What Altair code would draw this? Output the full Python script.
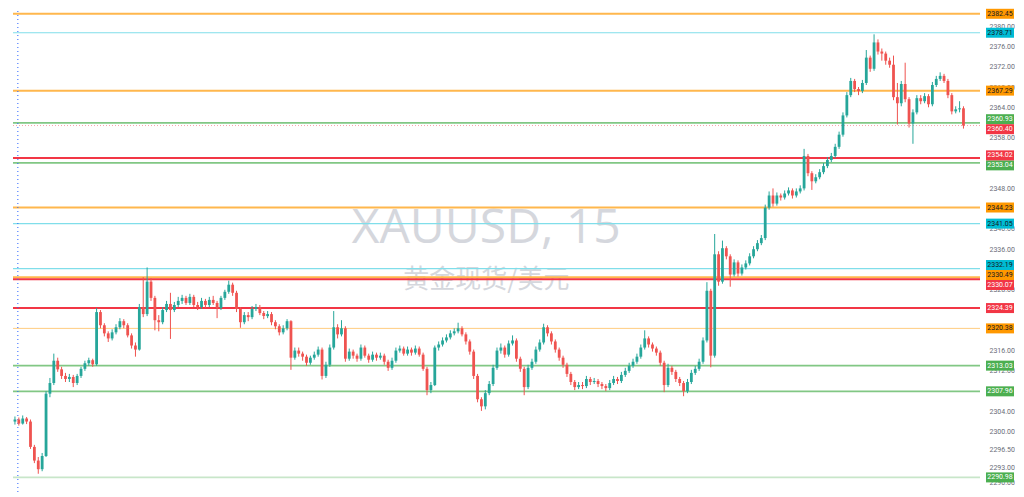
import altair as alt
import pandas as pd

# ---------------- data ----------------
FIRST_OPEN = 2302.0
closes = [
    2302.4, 2301.6, 2302.6, 2302.0, 2297.0, 2294.3, 2292.6, 2295.2, 2307.5, 2309.6,
    2314.0, 2312.3, 2311.0, 2310.4, 2310.8, 2309.6, 2311.0, 2312.4, 2313.5, 2314.1,
    2313.3, 2323.6, 2321.0, 2319.4, 2318.4, 2319.6, 2320.6, 2321.8, 2321.0, 2319.0,
    2317.0, 2316.2, 2324.6, 2323.2, 2329.6, 2326.4, 2322.0, 2321.6, 2324.0, 2325.2,
    2324.0, 2325.0, 2325.8, 2326.4, 2325.4, 2326.6, 2325.0, 2324.6, 2325.8, 2325.0,
    2326.0, 2325.4, 2324.4, 2326.4, 2327.6, 2329.0, 2327.4, 2324.2, 2321.6, 2323.0,
    2322.6, 2324.2, 2324.6, 2323.4, 2322.8, 2323.2, 2321.6, 2320.8, 2319.6, 2320.4,
    2321.8, 2314.6, 2316.0, 2315.4, 2314.8, 2313.6, 2314.6, 2315.2, 2316.2, 2311.0,
    2313.2, 2316.6, 2320.6, 2319.2, 2320.4, 2314.4, 2315.8, 2315.0, 2314.4, 2316.6,
    2315.0, 2314.2, 2315.2, 2314.6, 2315.0, 2313.8, 2312.6, 2314.0, 2316.0, 2316.4,
    2315.4, 2316.2, 2315.6, 2316.4, 2315.2, 2312.4, 2308.2, 2309.2, 2316.6, 2317.2,
    2318.0, 2318.6, 2319.4, 2319.8, 2320.4, 2319.2, 2317.8, 2315.8, 2311.0, 2306.4,
    2305.0, 2307.6, 2309.4, 2312.6, 2316.0, 2316.6, 2315.2, 2317.4, 2318.0, 2314.4,
    2312.4, 2308.8, 2312.6, 2313.8, 2316.2, 2317.6, 2320.6, 2319.4, 2317.8, 2316.2,
    2314.6, 2313.2, 2311.4, 2309.8, 2308.8, 2309.2, 2309.0, 2310.4, 2309.8, 2310.0,
    2309.4, 2309.0, 2308.6, 2309.6, 2310.4, 2310.0, 2311.2, 2312.0, 2313.0, 2313.8,
    2314.8, 2316.6, 2318.4, 2317.2, 2316.4, 2315.6, 2313.6, 2309.2, 2312.6, 2311.8,
    2310.4, 2309.6, 2308.0, 2309.8, 2311.6, 2312.4, 2313.8, 2318.0, 2327.8, 2315.0,
    2335.0, 2329.6, 2336.2, 2334.6, 2331.0, 2333.4, 2331.2, 2332.4, 2333.2, 2334.6,
    2336.0, 2337.2, 2338.2, 2344.2, 2346.6, 2345.0, 2346.6, 2346.2, 2347.0, 2347.6,
    2346.6, 2347.4, 2348.0, 2354.4, 2351.0, 2349.4, 2350.2, 2351.2, 2352.4, 2353.6,
    2354.4, 2356.2, 2358.6, 2362.4, 2366.4, 2369.2, 2367.6, 2367.2, 2368.8, 2373.8,
    2371.6, 2376.8, 2375.0, 2374.6, 2373.2, 2372.4, 2366.0, 2364.8, 2368.6, 2365.6,
    2360.8, 2363.0, 2365.8, 2365.2, 2366.2, 2364.6, 2368.4, 2369.6, 2370.2, 2369.2,
    2366.4, 2363.2, 2363.6, 2363.8, 2360.4,
]
highs = [
    2303.0, 2302.8, 2303.2, 2302.9, 2302.4, 2297.4, 2295.0, 2295.8, 2308.0, 2310.6,
    2315.4, 2314.6, 2312.8, 2311.6, 2311.4, 2311.2, 2311.4, 2312.8, 2314.0, 2314.6,
    2314.4, 2324.4, 2324.0, 2321.4, 2319.8, 2320.2, 2321.2, 2322.4, 2322.2, 2321.4,
    2319.4, 2317.6, 2325.2, 2330.5, 2332.4, 2330.3, 2326.8, 2323.0, 2324.6, 2325.8,
    2327.4, 2325.6, 2326.6, 2327.0, 2326.8, 2327.2, 2327.0, 2325.6, 2326.4, 2326.2,
    2326.6, 2326.8, 2325.8, 2326.8, 2328.0, 2329.8, 2329.4, 2327.8, 2324.6, 2323.6,
    2323.6, 2324.8, 2325.2, 2325.0, 2323.8, 2323.8, 2323.6, 2322.0, 2321.2, 2321.0,
    2322.2, 2322.0, 2316.6, 2316.6, 2315.8, 2315.2, 2315.0, 2315.8, 2316.8, 2316.6,
    2313.8, 2317.2, 2323.8, 2321.2, 2322.0, 2320.8, 2316.4, 2316.2, 2315.4, 2317.2,
    2317.0, 2315.4, 2315.8, 2315.6, 2315.6, 2315.4, 2314.2, 2314.6, 2316.6, 2317.0,
    2316.8, 2316.8, 2316.6, 2317.0, 2316.8, 2315.6, 2312.8, 2309.8, 2317.0, 2317.8,
    2318.6, 2319.2, 2320.0, 2320.4, 2321.5, 2320.8, 2319.6, 2318.2, 2316.2, 2311.4,
    2306.8, 2308.2, 2310.0, 2313.2, 2316.6, 2317.4, 2317.0, 2318.0, 2319.0, 2318.4,
    2314.8, 2312.8, 2313.2, 2314.4, 2316.8, 2318.2, 2321.3, 2321.0, 2319.8, 2318.2,
    2316.6, 2315.0, 2313.6, 2311.8, 2310.2, 2309.8, 2309.8, 2311.0, 2310.8, 2310.6,
    2310.4, 2309.8, 2309.4, 2310.2, 2311.0, 2310.8, 2311.8, 2312.6, 2313.6, 2314.4,
    2315.4, 2317.2, 2320.0, 2318.8, 2317.6, 2316.8, 2316.0, 2314.0, 2313.4, 2313.0,
    2312.2, 2310.8, 2310.0, 2310.4, 2312.2, 2313.0, 2314.4, 2318.6, 2329.5, 2328.2,
    2339.0, 2335.6, 2337.7, 2336.6, 2335.0, 2334.0, 2333.8, 2333.0, 2333.8, 2335.2,
    2336.6, 2337.8, 2338.8, 2344.8, 2347.4, 2348.0, 2347.2, 2347.0, 2347.6, 2348.2,
    2348.0, 2348.0, 2348.6, 2355.8, 2354.8, 2351.4, 2350.8, 2351.8, 2353.0, 2354.2,
    2355.0, 2356.8, 2359.2, 2363.0, 2367.0, 2369.8, 2369.6, 2368.0, 2369.4, 2375.3,
    2374.2, 2378.4, 2377.4, 2375.6, 2375.0, 2373.8, 2374.2, 2368.8, 2369.2, 2372.8,
    2366.0, 2363.6, 2366.4, 2366.4, 2366.8, 2366.6, 2369.0, 2370.2, 2370.9, 2370.6,
    2369.6, 2366.8, 2364.2, 2365.2, 2364.2,
]
lows = [
    2301.4, 2301.2, 2301.4, 2301.5, 2296.6, 2293.8, 2291.7, 2292.2, 2295.0, 2306.8,
    2309.2, 2311.8, 2310.4, 2309.8, 2309.8, 2308.8, 2309.2, 2310.6, 2312.0, 2313.0,
    2312.8, 2313.0, 2320.4, 2318.8, 2317.7, 2318.0, 2319.2, 2320.2, 2320.4, 2318.6,
    2316.4, 2314.8, 2316.0, 2322.6, 2322.8, 2325.8, 2320.0, 2319.8, 2321.2, 2323.6,
    2318.3, 2323.6, 2324.6, 2325.2, 2325.0, 2325.0, 2324.6, 2324.0, 2324.2, 2324.4,
    2324.6, 2325.0, 2322.4, 2324.0, 2326.0, 2327.2, 2326.8, 2323.6, 2320.5, 2321.2,
    2321.8, 2322.2, 2323.8, 2323.0, 2322.2, 2322.4, 2321.0, 2320.2, 2319.0, 2319.2,
    2320.0, 2312.2, 2314.2, 2314.8, 2314.0, 2313.0, 2313.2, 2314.2, 2314.8, 2310.3,
    2310.6, 2312.8, 2316.2, 2318.4, 2318.8, 2313.8, 2314.0, 2314.4, 2313.8, 2314.0,
    2314.6, 2313.6, 2313.8, 2314.0, 2314.2, 2313.2, 2312.0, 2312.2, 2313.6, 2315.6,
    2315.0, 2315.0, 2315.0, 2315.2, 2314.8, 2312.0, 2307.2, 2307.6, 2309.0, 2316.0,
    2316.8, 2317.6, 2318.2, 2319.0, 2319.4, 2318.8, 2317.2, 2315.2, 2310.4, 2305.8,
    2304.1, 2304.4, 2307.2, 2309.0, 2312.2, 2315.4, 2314.6, 2314.8, 2317.0, 2313.8,
    2311.8, 2307.2, 2308.4, 2312.2, 2313.4, 2315.8, 2317.2, 2318.8, 2317.2, 2315.6,
    2314.0, 2312.6, 2310.8, 2309.2, 2308.2, 2308.4, 2308.4, 2308.6, 2309.2, 2309.4,
    2308.8, 2308.4, 2308.0, 2308.2, 2309.2, 2309.4, 2309.6, 2310.8, 2311.6, 2312.6,
    2313.4, 2314.4, 2316.2, 2316.6, 2315.8, 2315.0, 2313.0, 2307.8, 2308.8, 2311.2,
    2309.8, 2309.0, 2307.0, 2307.6, 2309.4, 2311.2, 2312.0, 2313.4, 2317.6, 2312.7,
    2314.6, 2328.8, 2329.2, 2334.0, 2328.6, 2330.6, 2330.6, 2330.8, 2332.0, 2332.8,
    2334.2, 2335.6, 2336.8, 2337.8, 2343.8, 2344.4, 2344.6, 2345.6, 2345.8, 2346.6,
    2346.0, 2346.2, 2347.0, 2347.6, 2350.4, 2347.7, 2349.0, 2349.8, 2350.8, 2352.0,
    2353.2, 2354.0, 2355.8, 2358.2, 2362.0, 2366.0, 2367.0, 2366.4, 2366.8, 2368.4,
    2371.0, 2371.2, 2374.4, 2373.2, 2372.4, 2371.8, 2365.4, 2360.6, 2364.2, 2365.0,
    2360.0, 2356.8, 2362.6, 2364.6, 2364.8, 2364.0, 2364.2, 2368.0, 2369.2, 2368.8,
    2365.8, 2362.6, 2362.8, 2363.0, 2359.8,
]

level_prices = [2382.45, 2378.71, 2367.29, 2360.93, 2360.40, 2354.02, 2353.04,
                2344.23, 2341.05, 2332.19, 2330.49, 2330.07, 2324.39, 2320.38,
                2313.03, 2307.96, 2290.98]
level_kinds = ["orange", "cyan", "orange", "green", "last", "red", "green",
               "orange", "cyan", "cyan", "orange", "red", "red", "orange_thin",
               "green", "green", "green_light"]

axis_ticks = [2380, 2376, 2372, 2368, 2364, 2358, 2348, 2340, 2336, 2328,
              2316, 2312, 2304, 2300, 2296.5, 2293, 2290]

session_break = [0.75]
symbol_text = ["XAUUSD, 15"]
name_text = ["黄金现货/美元"]

# ---------------- layout / styles ----------------
W, H = 977, 481
X_DOMAIN = [-0.5, 248.25]
Y_DOMAIN = [2288.1, 2383.0]
UP, DOWN = "#26A69A", "#EF5350"
TAG_H = 10  # px

STYLE = {
    #  kind:        line color, width, dash, box fill, text color
    "orange":      ("#FFB74D", 2.0, [], "#FF9800", "#131722"),
    "orange_thin": ("#FFCC80", 1.0, [], "#FF9800", "#131722"),
    "cyan":        ("#80DEEA", 1.2, [], "#00BCD4", "#131722"),
    "green":       ("#81C784", 1.6, [], "#4CAF50", "#FFFFFF"),
    "green_light": ("#C8E6C9", 1.6, [], "#4CAF50", "#FFFFFF"),
    "red":         ("#F23645", 2.0, [], "#F23645", "#FFFFFF"),
    "last":        ("#F7A1A8", 1.0, [1, 2], "#F23645", "#FFFFFF"),
}


def spread_tags(prices, gap):
    """Layout helper: push overlapping price tags apart (centred on each cluster)."""
    order = sorted(range(len(prices)), key=lambda k: -prices[k])
    groups = [[k] for k in order]

    def pos(g):
        c = sum(prices[k] for k in g) / len(g)
        m = len(g)
        return [c + gap * ((m - 1) / 2 - j) for j in range(m)]

    changed = True
    while changed:
        changed = False
        for a in range(len(groups) - 1):
            if pos(groups[a])[-1] - pos(groups[a + 1])[0] < gap - 1e-9:
                groups[a] = groups[a] + groups[a + 1]
                del groups[a + 1]
                changed = True
                break
    out = [0.0] * len(prices)
    for g in groups:
        for k, p in zip(g, pos(g)):
            out[k] = p
    return out


# ---------------- tables ----------------
opens = [FIRST_OPEN] + closes[:-1]
n = min(len(closes), len(highs), len(lows))
candles = pd.DataFrame({
    "i": list(range(n)),
    "open": opens[:n],
    "close": closes[:n],
    "high": highs[:n],
    "low": lows[:n],
})
candles["dir"] = ["up" if c >= o else "down" for o, c in zip(candles["open"], candles["close"])]

px_per_unit = H / (Y_DOMAIN[1] - Y_DOMAIN[0])
levels = pd.DataFrame({"price": level_prices, "kind": level_kinds})
levels["label"] = [f"{p:.2f}" for p in level_prices]
levels["tag"] = spread_tags(level_prices, TAG_H / px_per_unit)
levels["x0"] = X_DOMAIN[0]
levels["x1"] = X_DOMAIN[1]

xs = alt.Scale(domain=X_DOMAIN, nice=False, zero=False)
ys = alt.Scale(domain=Y_DOMAIN, nice=False, zero=False)
yaxis = alt.Axis(orient="right", values=axis_ticks, format=".2f", labelFontSize=7,
                 labelColor="#6A6D78", labelFont="Roboto", ticks=False, domain=False,
                 grid=False, labelPadding=4, title=None)


def Y(field):
    return alt.Y(field, type="quantitative", scale=ys, axis=yaxis, title=None)


def X(field):
    return alt.X(field, type="quantitative", scale=xs, axis=None, title=None)


color = alt.Color("dir:N", scale=alt.Scale(domain=["up", "down"], range=[UP, DOWN]), legend=None)

# watermark
wm1 = alt.Chart(pd.DataFrame({"i": [121.25], "p": [2337.2], "t": symbol_text})).mark_text(
    fontSize=48, font="Open Sans", color="#D5D7DD", align="center", baseline="alphabetic"
).encode(x=X("i"), y=Y("p"), text="t:N")
wm2 = alt.Chart(pd.DataFrame({"i": [121.25], "p": [2328.4], "t": name_text})).mark_text(
    fontSize=26, font="Noto Sans CJK SC", color="#D5D7DD", align="center", baseline="alphabetic"
).encode(x=X("i"), y=Y("p"), text="t:N")

layers = [wm1, wm2]

# horizontal levels
for kind, (lc, lw, dash, _, _) in STYLE.items():
    sub = levels[levels["kind"] == kind]
    if len(sub) == 0:
        continue
    mk = dict(color=lc, strokeWidth=lw)
    if dash:
        mk["strokeDash"] = dash
    layers.append(alt.Chart(sub).mark_rule(**mk).encode(x=X("x0"), x2="x1", y=Y("price")))

# session break dotted line
layers.append(
    alt.Chart(pd.DataFrame({"i": session_break})).mark_rule(
        color="#2962FF", strokeWidth=1, strokeDash=[1, 3]
    ).encode(x=X("i"))
)

# candles
base = alt.Chart(candles)
wicks = base.mark_rule(strokeWidth=1).encode(x=X("i"), y=Y("low"), y2="high", color=color)
bodies = base.mark_bar(size=2.8).encode(x=X("i"), y=Y("open"), y2="close", color=color)
layers += [wicks, bodies]

# price tags on the right
for kind, (_, _, _, fill, tc) in STYLE.items():
    sub = levels[levels["kind"] == kind]
    if len(sub) == 0:
        continue
    layers.append(alt.Chart(sub).mark_rect(color=fill, yOffset=-TAG_H / 2, y2Offset=TAG_H / 2).encode(
        x=alt.value(W + 1), x2=alt.value(W + 29), y=Y("tag"), y2="tag"))
    layers.append(alt.Chart(sub).mark_text(color=tc, fontSize=7, font="Roboto",
                                           align="center", baseline="middle").encode(
        x=alt.value(W + 15), y=Y("tag"), text="label:N"))

chart = alt.layer(*layers).properties(
    width=W, height=H, padding=0, background="white"
).configure_view(stroke=None)

chart.save("out.html", embed_options={"renderer": "svg", "actions": False})
